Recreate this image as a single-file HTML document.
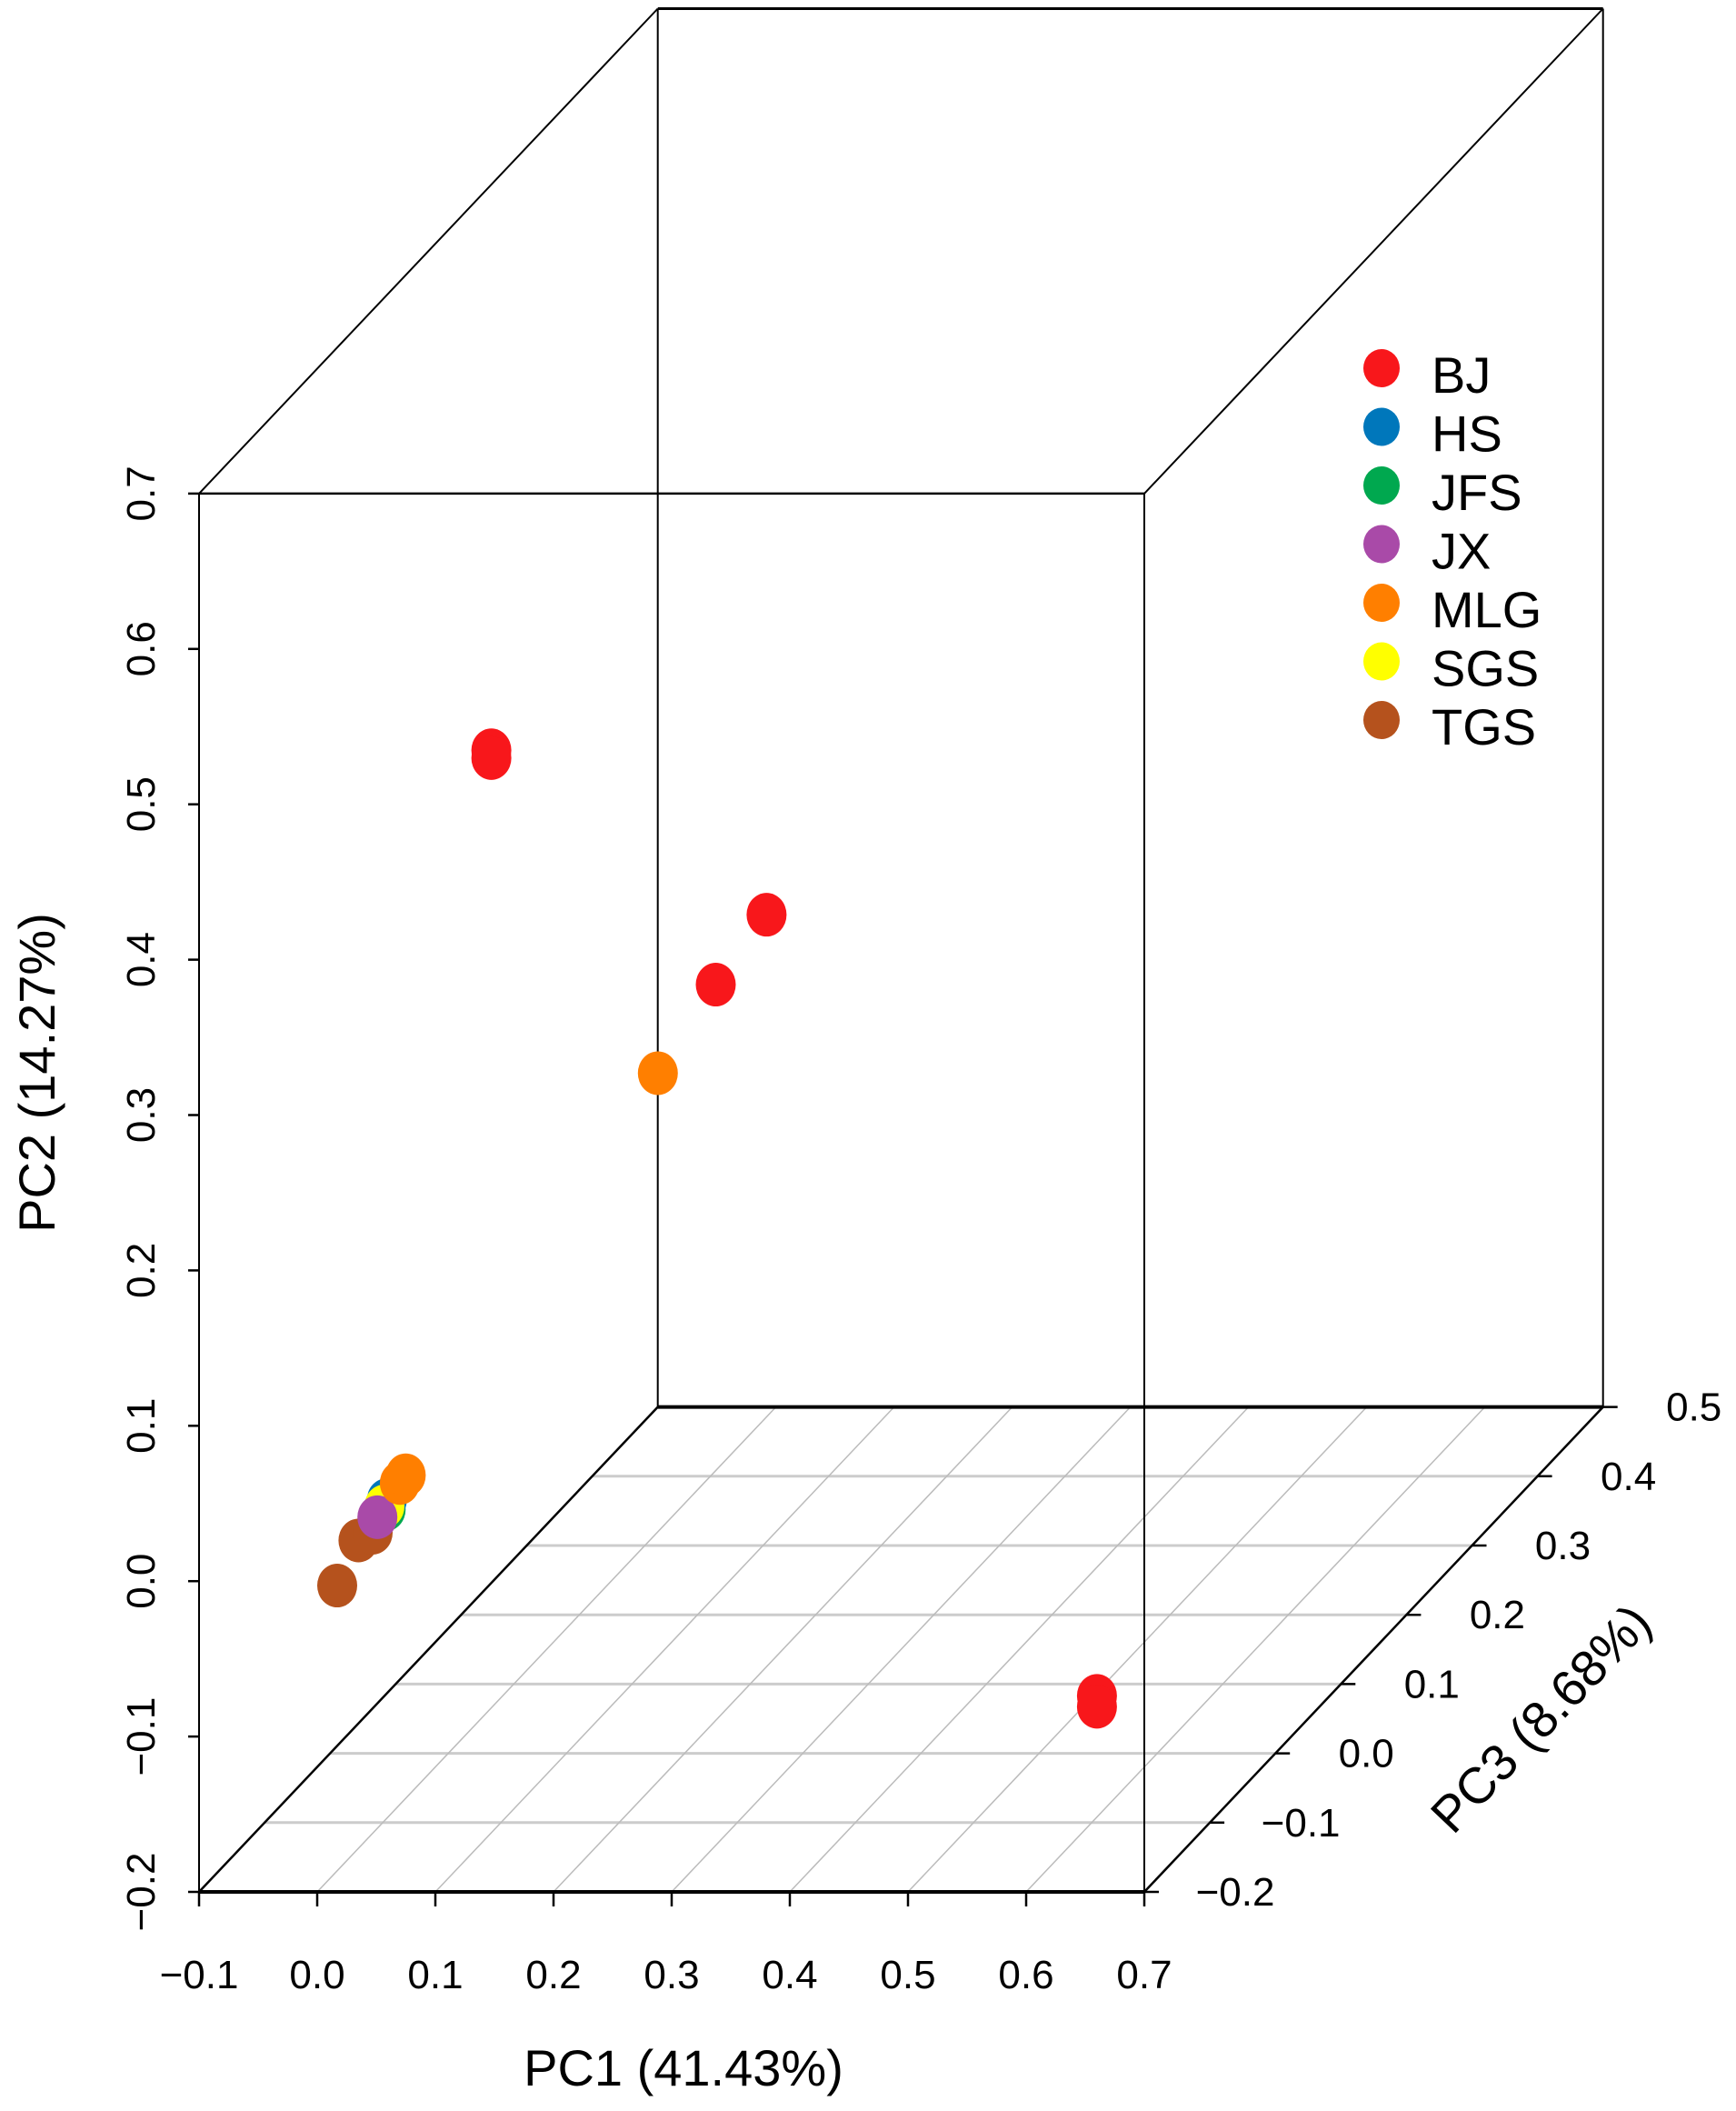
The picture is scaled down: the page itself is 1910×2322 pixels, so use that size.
<!DOCTYPE html>
<html><head><meta charset="utf-8"><style>
html,body{margin:0;padding:0;background:#fff;}
svg{display:block;font-family:"Liberation Sans",Arial,sans-serif;}
</style></head><body>
<svg id="chart" width="1910" height="2322" viewBox="0 0 1910 2322" xmlns="http://www.w3.org/2000/svg">
<rect width="1910" height="2322" fill="#fff"/>
<g id="grid"></g><g id="box"></g><g id="ticks"></g><g id="pts"></g><g id="legend"></g>
<text x="752" y="2294" font-size="56" text-anchor="middle">PC1 (41.43%)</text>
<text transform="translate(60,1180) rotate(-90)" font-size="56" text-anchor="middle">PC2 (14.27%)</text>
<text transform="translate(1695,1890) rotate(-46.4)" font-size="56" text-anchor="middle" dominant-baseline="central">PC3 (8.68%)</text>
</svg>
<script>
const groups=["BJ","HS","JFS","JX","MLG","SGS","TGS"];
const colors=["#F8171B","#0077BB","#00A84F","#A94AA8","#FF7F00","#FFFF00","#B5521D"];
const ptGroup=["TGS","TGS","TGS","JFS","HS","SGS","JX","MLG","MLG","BJ","BJ","BJ","BJ","BJ","BJ","MLG"];
const ptX=[-0.094,-0.076,-0.064,-0.053,-0.052,-0.054,-0.060,-0.041,-0.036,-0.019,-0.019,0.103,0.060,0.549,0.549,0.011];
const ptY=[-0.092,-0.063,-0.058,-0.043,-0.037,-0.041,-0.048,-0.026,-0.021,0.401,0.396,0.206,0.161,-0.163,-0.170,0.104];
const ptZ=[0.0,0.0,0.0,0.0,0.0,0.0,0.0,0.0,0.0,0.1,0.1,0.3,0.3,0.0,0.0,0.3];
const xTicks=[-0.1,0.0,0.1,0.2,0.3,0.4,0.5,0.6,0.7];
const yTicks=[-0.2,-0.1,0.0,0.1,0.2,0.3,0.4,0.5,0.6,0.7];
const zTicks=[-0.2,-0.1,0.0,0.1,0.2,0.3,0.4,0.5];
const NS="http://www.w3.org/2000/svg";
const X0=219,Y0=2081,XS=1300,YS=1709,ZX=721,ZY=762;
function px(x,y,z){return X0+(x+0.1)*XS+(z+0.2)*ZX;}
function py(x,y,z){return Y0-(y+0.2)*YS-(z+0.2)*ZY;}
function el(tag,attrs,parent){const e=document.createElementNS(NS,tag);for(const k in attrs)e.setAttribute(k,attrs[k]);parent.appendChild(e);return e;}
const fmt=v=>(v<0?"\u22120":"0")+"."+Math.round(Math.abs(v)*10);
const grid=document.getElementById('grid'),box=document.getElementById('box'),ticks=document.getElementById('ticks'),pts=document.getElementById('pts'),leg=document.getElementById('legend');
zTicks.slice(1,-1).forEach(z=>{
 const l=el('line',{x1:px(-0.1,-0.2,z),y1:py(-0.1,-0.2,z),x2:px(0.7,-0.2,z),y2:py(0.7,-0.2,z),stroke:'#cccccc','stroke-width':3},grid);
 
 
});
xTicks.slice(1,-1).forEach(x=>{
 const l=el('line',{x1:px(x,-0.2,-0.2),y1:py(x,-0.2,-0.2),x2:px(x,-0.2,0.5),y2:py(x,-0.2,0.5),stroke:'#bbbbbb','stroke-width':1.5},grid);
 
 
});
const C=(x,y,z)=>[px(x,y,z),py(x,y,z)];
const edges=[
 [C(-0.1,0.7,-0.2),C(0.7,0.7,-0.2),2.5],[C(-0.1,-0.2,-0.2),C(0.7,-0.2,-0.2),4],
 [C(-0.1,-0.2,-0.2),C(-0.1,0.7,-0.2),2],[C(0.7,-0.2,-0.2),C(0.7,0.7,-0.2),2],
 [C(-0.1,0.7,0.5),C(0.7,0.7,0.5),3],[C(-0.1,-0.2,0.5),C(0.7,-0.2,0.5),4],
 [C(-0.1,-0.2,0.5),C(-0.1,0.7,0.5),2],[C(0.7,-0.2,0.5),C(0.7,0.7,0.5),2],
 [C(-0.1,0.7,-0.2),C(-0.1,0.7,0.5),2],[C(0.7,0.7,-0.2),C(0.7,0.7,0.5),2],
 [C(-0.1,-0.2,-0.2),C(-0.1,-0.2,0.5),2.5],[C(0.7,-0.2,-0.2),C(0.7,-0.2,0.5),2.5]];
edges.forEach(e=>{
 const l=el('line',{x1:e[0][0],y1:e[0][1],x2:e[1][0],y2:e[1][1],stroke:'#000','stroke-width':e[2]},box);
 
 
});
xTicks.forEach(v=>{
 const x=px(v,-0.2,-0.2);
 const t=el('line',{x1:x,y1:Y0,x2:x,y2:Y0+16,stroke:'#000','stroke-width':2.5},ticks);
 
 
 const tx=el('text',{x:x,y:2187,'font-size':44,'text-anchor':'middle'},ticks);
 tx.textContent=fmt(v);
 
 
});
yTicks.forEach(v=>{
 const y=py(-0.1,v,-0.2);
 const t=el('line',{x1:X0-12,y1:y,x2:X0,y2:y,stroke:'#000','stroke-width':2.5},ticks);
 
 
 const tx=el('text',{transform:`translate(170,${y}) rotate(-90)`,'font-size':44,'text-anchor':'middle'},ticks);
 tx.textContent=fmt(v);
 
 
});
zTicks.forEach(v=>{
 const x=px(0.7,-0.2,v),y=py(0.7,-0.2,v);
 const t=el('line',{x1:x,y1:y,x2:x+16,y2:y,stroke:'#000','stroke-width':2.5},ticks);
 
 
 const tx=el('text',{x:x+100,y:y+15,'font-size':44,'text-anchor':'middle'},ticks);
 tx.textContent=fmt(v);
 
 
});
ptX.forEach((v,i)=>{
 const c=colors[groups.indexOf(ptGroup[i])];
 const p=el('ellipse',{cx:px(v,ptY[i],ptZ[i]),cy:py(v,ptY[i],ptZ[i]),rx:22,ry:24,fill:c},pts);
 
 
});
groups.forEach((g,i)=>{
 const y=405+i*64.5;
 const d=el('ellipse',{cx:1520,cy:y,rx:20,ry:21,fill:colors[i]},leg);
 
 
 const t=el('text',{x:1575,y:y+27,'font-size':56},leg);
 t.textContent=g;
 
 
});
</script>
</body></html>
